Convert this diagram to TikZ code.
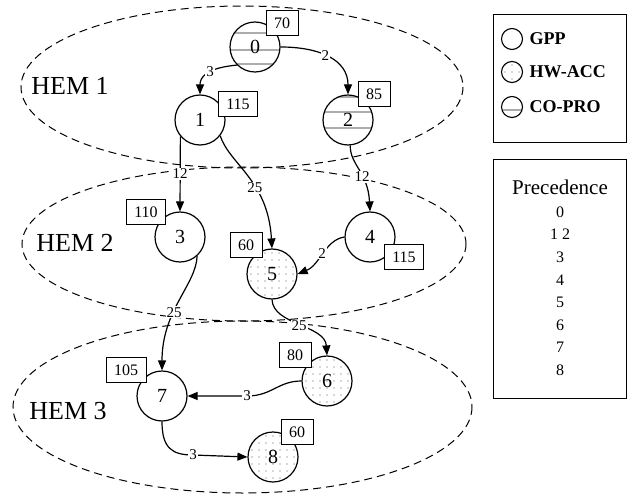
\documentclass[tikz,border=0pt]{standalone}
\usepackage{fontspec}
\setmainfont{Liberation Serif}
\usetikzlibrary{arrows.meta}
\begin{document}
\begin{tikzpicture}[x=1pt,y=-1pt,
 task/.style={circle,draw,line width=1.2pt,minimum size=50pt,inner sep=0pt,fill=white,font=\fontsize{20}{20}\selectfont},
 legcirc/.style={circle,draw,line width=1.1pt,minimum size=21pt,inner sep=0pt,fill=white},
 wbox/.style={draw,line width=1pt,fill=white,minimum height=25pt,inner xsep=8pt,inner ysep=0pt,font=\fontsize{16}{16}\selectfont},
 conn/.style={line width=1.2pt,-{Triangle[length=10pt,width=8pt]}},
 lbl/.style={fill=white,inner sep=1pt,font=\fontsize{15}{15}\selectfont},
 hem/.style={dash pattern=on 8pt off 5pt,line width=1pt},
 hemlbl/.style={font=\fontsize{26}{26}\selectfont},
 legtxt/.style={anchor=west,font=\fontsize{18}{18}\selectfont\bfseries},
 prec/.style={font=\fontsize{16}{16}\selectfont},
 hwacc/.style={path picture={\foreach \i in {-4,...,4}{\foreach \j in {-4,...,4}{\fill[gray!60] ([xshift=\i*7pt,yshift=\j*7pt]path picture bounding box.center) circle[radius=0.9pt];}}}},
 copro/.style={path picture={\foreach \d in {#1}{\draw[gray!65,line width=1.3pt] ([yshift=\d pt]path picture bounding box.west) -- ([yshift=\d pt]path picture bounding box.east);}}},
]
\useasboundingbox (0,0) rectangle (628,494);

% HEM regions
\draw[hem] (242,87) ellipse [x radius=221, y radius=81];
\draw[hem] (244,244) ellipse [x radius=222, y radius=77];
\draw[hem] (242.5,407) ellipse [x radius=229.5, y radius=86];
\node[hemlbl] (h1) at (70,86) {HEM 1};
\node[hemlbl] (h2) at (75,243) {HEM 2};
\node[hemlbl] (h3) at (68,411) {HEM 3};

% tasks
\node[task,copro={14,-3,-17}] (n0) at (255,47) {0};
\node[task] (n1) at (200,120) {1};
\node[task,copro={23,8,-8}] (n2) at (348,120) {2};
\node[task] (n3) at (180,237) {3};
\node[task] (n4) at (370,237) {4};
\node[task,hwacc] (n5) at (272,274) {5};
\node[task,hwacc] (n6) at (327,381) {6};
\node[task] (n7) at (162,396) {7};
\node[task,hwacc] (n8) at (273,457) {8};

% weights
\node[wbox] (w0) at (282,23) {70};
\node[wbox] (w1) at (238,104) {115};
\node[wbox] (w2) at (374,94) {85};
\node[wbox] (w3) at (146,212) {110};
\node[wbox] (w4) at (404,257) {115};
\node[wbox] (w5) at (246,245) {60};
\node[wbox] (w6) at (295,355) {80};
\node[wbox] (w7) at (126,370) {105};
\node[wbox] (w8) at (297,432) {60};

% connectors
\draw[conn] (n0.225) .. controls (205,68) and (200,78) .. (n1.north) node[lbl,pos=0.4] {3};
\draw[conn] (n0.east) .. controls (320,47) and (348,60) .. (n2.north) node[lbl,pos=0.45] {2};
\draw[conn] (n1.220) -- (n3.north) node[lbl,pos=0.5] {12};
\draw[conn] (n1.-38) .. controls (230,165) and (268,180) .. (n5.north) node[lbl,pos=0.6] {25};
\draw[conn] (n2.-85) .. controls (350,165) and (368,172) .. (n4.north) node[lbl,pos=0.6] {12};
\draw[conn] (n4.west) .. controls (325,240) and (320,265) .. (n5.east) node[lbl,pos=0.5] {2};
\draw[conn] (n3.-48) .. controls (196,285) and (162,310) .. (n7.north) node[lbl,pos=0.6] {25};
\draw[conn] (n5.south) .. controls (273,325) and (325,325) .. (n6.north) node[lbl,pos=0.5] {25};
\draw[conn] (n6.west) .. controls (278,381) and (272,396) .. (247,396) node[lbl,pos=1] {3} -- (n7.east);
\draw[conn] (n7.south) .. controls (162,448) and (172,455) .. (193,455) node[lbl,pos=1] {3} -- (n8.west);

% legend
\node[draw,line width=1pt,minimum width=133pt,minimum height=128pt,inner sep=0pt] (leg1) at (559.5,79) {};
\node[legcirc] (lg) at (512,39) {};
\node[legcirc,hwacc] (lh) at (512,72) {};
\node[legcirc,copro={-3}] (lc) at (512,107) {};
\node[legtxt] (tg) at (526,39) {GPP};
\node[legtxt] (th) at (526,72) {HW-ACC};
\node[legtxt] (tc) at (526,107) {CO-PRO};

\node[draw,line width=1pt,minimum width=133pt,minimum height=238pt,inner sep=0pt] (leg2) at (559.5,279) {};
\node[font=\fontsize{21}{21}\selectfont] (pt) at (560,187) {Precedence};
\foreach \t [count=\k from 0] in {0,1 2,3,4,5,6,7,8}{
  \node[prec] (p\k) at (560,212+22.6*\k) {\t};
}
\end{tikzpicture}
\end{document}
